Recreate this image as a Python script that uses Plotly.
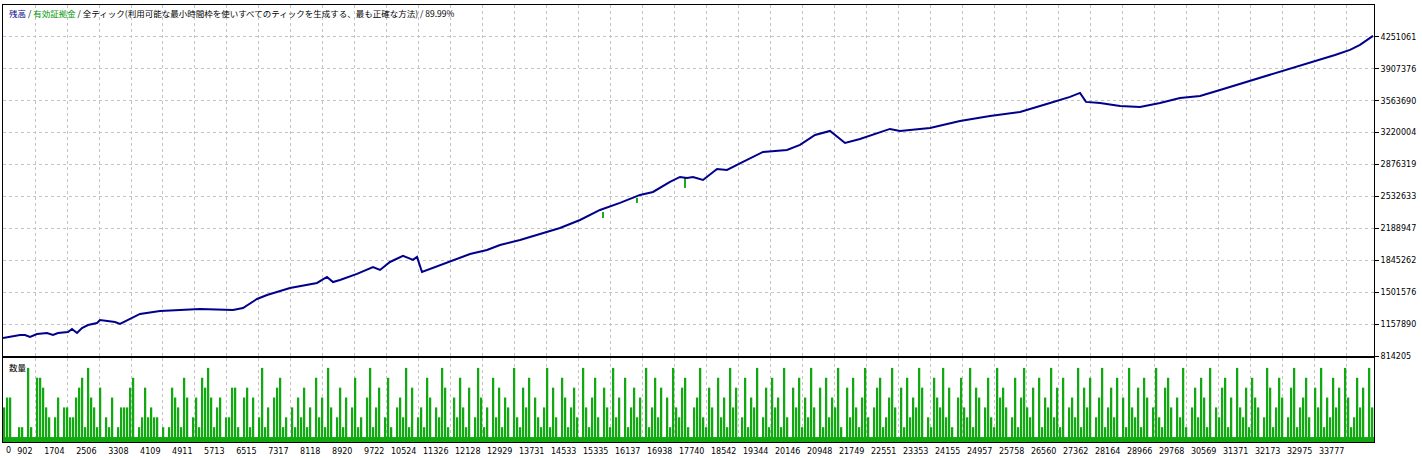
import plotly.graph_objects as go

# ---------------- data ----------------
# balance curve (deal number, balance)
bal_x = [100, 526, 651, 777, 952, 1203, 1353, 1478, 1729, 1829, 1954, 2080, 2230, 2456, 2531,
         2907, 3032, 3233, 3533, 4034, 4536, 5037, 5864, 6114,
         6465, 6716, 7292, 7969, 8219, 8370, 8545, 8971, 9372, 9548, 9798, 10124, 10375, 10475,
         10600, 11051, 11377, 11803, 12229, 12555, 13056, 13557, 14058, 14560, 15061, 15562, 16063,
         16389, 16815, 17066, 17241, 17391, 17642, 17993, 18243, 18644, 19146, 19747, 20073, 20449,
         20825, 21201, 21576, 22328, 22579, 23331, 24082, 24834, 25586, 26338, 26839, 27090, 27240,
         27591, 28092, 28593, 29094, 29596, 30097, 30598, 31099, 31600, 32101, 32603, 33104, 33480,
         33856, 34106, 34432]
bal_v = [1008000, 1040500, 1040500, 1019000, 1051000, 1062000, 1040500, 1062000, 1073000, 1105000,
         1062000, 1116000, 1148000, 1170000, 1202000, 1180500, 1159000, 1202000, 1267000,
         1299000, 1310000, 1321000, 1310000, 1331000, 1428000, 1471000, 1547000, 1601000, 1665000,
         1611000, 1633000, 1698000, 1773000, 1741000, 1827000, 1892000, 1849000, 1881000, 1719000,
         1795000, 1849000, 1913000, 1956000, 2010000, 2064000, 2129000, 2193000, 2279000, 2387000,
         2463000, 2549000, 2581000, 2689000, 2743000, 2732000, 2743000, 2710000, 2829000, 2818000,
         2904000, 3012000, 3034000, 3088000, 3195000, 3238000, 3109000, 3152000, 3260000, 3238000,
         3271000, 3346000, 3400000, 3443000, 3540000, 3605000, 3648000, 3551000, 3540000, 3508000,
         3497000, 3540000, 3594000, 3615000, 3680000, 3745000, 3809000, 3874000, 3939000, 4003000,
         4057000, 4111000, 4165000, 4262000]

# equity dips below balance (deal number, equity high, equity low)
dip_x = [15136, 15987, 17191]
dip_hi = [2366000, 2518000, 2732000]
dip_lo = [2300000, 2463000, 2624000]

# right-axis ticks
y_ticks = [814205, 1157890, 1501576, 1845262, 2188947, 2532633, 2876319, 3220004, 3563690,
           3907376, 4251061]
y_top = 4594747

# bottom axis ticks
x_ticks = [902, 1704, 2506, 3308, 4109, 4911, 5713, 6515, 7317, 8118, 8920, 9722, 10524, 11326,
           12128, 12929, 13731, 14533, 15335, 16137, 16938, 17740, 18542, 19344, 20146, 20948,
           21749, 22551, 23353, 24155, 24957, 25758, 26560, 27362, 28164, 28966, 29768, 30569,
           31371, 32173, 32975, 33777]
x_range = [100, 34457]

# volume levels, one per group of deals (0 = smallest lot, higher = larger lot)
vol_level = [
    3, 4, 4, 0, 0, 1, 1, 0, 7, 1, 0, 6, 6, 5, 3, 2, 0, 2, 4, 0,
    3, 3, 2, 2, 4, 5, 6, 1, 7, 4, 3, 1, 5, 0, 2, 1, 4, 0, 1, 3,
    3, 3, 5, 6, 0, 1, 2, 5, 2, 3, 2, 2, 0, 1, 0, 1, 5, 4, 3, 1,
    6, 4, 0, 2, 4, 1, 6, 5, 7, 4, 1, 3, 4, 0, 2, 2, 5, 5, 1, 0,
    4, 5, 1, 4, 0, 2, 7, 1, 3, 0, 4, 5, 6, 1, 2, 0, 3, 1, 4, 2,
    5, 1, 3, 0, 6, 2, 4, 1, 7, 3, 0, 2, 5, 1, 4, 0, 3, 6, 1, 2,
    0, 4, 7, 1, 3, 5, 0, 2, 6, 1, 0, 3, 4, 2, 7, 1, 5, 0, 2, 3,
    1, 6, 4, 0, 3, 2, 7, 5, 1, 0, 4, 2, 6, 3, 1, 5, 0, 2, 7, 4,
    1, 3, 0, 6, 2, 5, 1, 4, 3, 0, 7, 2, 1, 5, 3, 6, 0, 4, 2, 1,
    3, 7, 1, 5, 2, 0, 6, 4, 1, 3, 5, 2, 0, 7, 3, 1, 4, 6, 2, 0,
    5, 3, 1, 7, 2, 4, 0, 6, 1, 3, 5, 2, 4, 0, 7, 1, 3, 6, 2, 5,
    0, 4, 1, 7, 3, 2, 5, 6, 1, 0, 3, 4, 7, 2, 1, 5, 3, 0, 6, 2,
    4, 1, 7, 3, 5, 0, 2, 6, 1, 4, 3, 7, 0, 2, 5, 1, 6, 3, 4, 1,
    7, 2, 0, 5, 3, 6, 1, 4, 2, 7, 3, 0, 5, 1, 6, 2, 4, 3, 7, 1,
    0, 5, 2, 6, 3, 1, 4, 7, 2, 0, 3, 5, 6, 1, 2, 4, 7, 3, 0, 5,
    1, 6, 2, 4, 3, 7, 5, 0, 2, 1, 6, 4, 3, 7, 2, 5, 1, 0, 4, 6,
    3, 2, 7, 1, 5, 4, 0, 3, 6, 2, 1, 7, 4, 5, 3, 0, 2, 6, 1, 4,
    7, 3, 2, 5, 0, 6, 1, 4, 3, 7, 2, 5, 1, 6, 0, 3, 4, 2, 7, 1,
    5, 3, 6, 0, 2, 4, 7, 1, 3, 5, 2, 6, 0, 4, 1, 7, 3, 2, 5, 1,
    6, 4, 0, 3, 7, 2, 1, 5, 6, 3, 0, 4, 2, 7, 1, 0, 3, 5, 2, 6,
    4, 1, 7, 0, 3, 2, 5, 6, 1, 4, 0, 7, 3, 2, 5, 1, 6, 4, 3, 0,
    2, 7, 5, 1, 3, 6, 4, 0, 2, 5, 7, 1, 3, 4, 6, 2, 0, 5, 3, 7,
    1, 4, 2, 6, 3, 5, 0, 7, 4, 1, 2, 6, 3, 5, 0, 7, 3,
]
vol_step = 75.18  # deals per volume group

# ---------------- figure ----------------
NAVY = "#00008b"
GREEN = "#12a812"
GRID = "#c4c4c4"
TXT = "DejaVu Sans, Tahoma, sans-serif"
CJK = "Noto Sans CJK JP, sans-serif"

fig = go.Figure()

# equity dips (green)
dx, dy = [], []
for x, hi, lo in zip(dip_x, dip_hi, dip_lo):
    dx += [x, x, None]
    dy += [hi, lo, None]
fig.add_trace(go.Scatter(x=dx, y=dy, mode="lines", line=dict(color="#1fa81f", width=2),
                         xaxis="x", yaxis="y", hoverinfo="skip"))
# balance
fig.add_trace(go.Scatter(x=bal_x, y=bal_v, mode="lines", line=dict(color=NAVY, width=2),
                         xaxis="x", yaxis="y"))

# volume
vx = [x_range[0] + (i + 0.5) * vol_step for i in range(len(vol_level))]
base_x = [x for x, l in zip(vx, vol_level) if l >= 0]
spk_x = [x for x, l in zip(vx, vol_level) if l >= 1]
spk_y = [l for l in vol_level if l >= 1]
fig.add_trace(go.Bar(x=base_x, y=[0.5] * len(base_x), base=-0.5, width=vol_step,
                     marker=dict(color=GREEN, line=dict(width=0)), xaxis="x2", yaxis="y2"))
fig.add_trace(go.Bar(x=spk_x, y=[v + 0.5 for v in spk_y], base=-0.5, width=vol_step * 0.5,
                     marker=dict(color=GREEN, line=dict(width=0)), xaxis="x2", yaxis="y2"))

axis_common = dict(showline=True, linecolor="black", linewidth=1, mirror=True, zeroline=False)

fig.update_layout(
    width=1422, height=458,
    margin=dict(l=3, r=48, t=5, b=16),
    paper_bgcolor="white", plot_bgcolor="white",
    showlegend=False, barmode="overlay",
    font=dict(family=TXT, size=8, color="black"),
    xaxis=dict(domain=[0, 1], anchor="y", range=x_range, tickvals=x_ticks,
               showticklabels=False, ticks="", showgrid=True, gridcolor=GRID,
               griddash="3px,3px", gridwidth=1, **axis_common),
    yaxis=dict(domain=[0.1968, 1], anchor="x", side="right", range=[y_ticks[0], y_top],
               tickvals=y_ticks, ticktext=[str(v) for v in y_ticks],
               ticks="outside", ticklen=4, tickcolor="black",
               showgrid=True, gridcolor=GRID, griddash="3px,3px", gridwidth=1,
               tickfont=dict(family=TXT, size=8), **axis_common),
    xaxis2=dict(domain=[0, 1], anchor="y2", range=x_range, tickvals=x_ticks,
                ticktext=[str(v) for v in x_ticks], ticks="", tickangle=0,
                ticklabelposition="outside left", ticklabelshift=-2, ticklabelstandoff=1,
                showgrid=True, gridcolor=GRID, griddash="3px,3px", gridwidth=1,
                tickfont=dict(family=TXT, size=8), **axis_common),
    yaxis2=dict(domain=[0, 0.1922], anchor="x2", range=[-0.5, 8.0], showticklabels=False,
                ticks="", showgrid=False, **axis_common),
    annotations=[
        dict(xref="x domain", yref="y domain", x=0.003, y=0.977, xanchor="left",
             yanchor="middle", showarrow=False, font=dict(family=CJK, size=8.5, color="black"),
             text='<span style="color:#00008b">残高</span> / '
                  '<span style="color:#009a00">有効証拠金</span> / '
                  '全ティック(利用可能な最小時間枠を使いすべてのティックを生成する、最も正確な方法) / 89.99%'),
        dict(xref="x2 domain", yref="y2 domain", x=0.003, y=0.89, xanchor="left",
             yanchor="middle", showarrow=False, font=dict(family=CJK, size=8.5, color="black"),
             text="数量"),
        dict(xref="x2 domain", yref="y2 domain", x=0.0008, y=-0.1, xanchor="left",
             yanchor="middle", showarrow=False, font=dict(family=TXT, size=8, color="black"),
             text="0"),
    ],
)

fig.write_html("out.html", config={"displayModeBar": False},
               post_script="document.body.style.margin='0';")
